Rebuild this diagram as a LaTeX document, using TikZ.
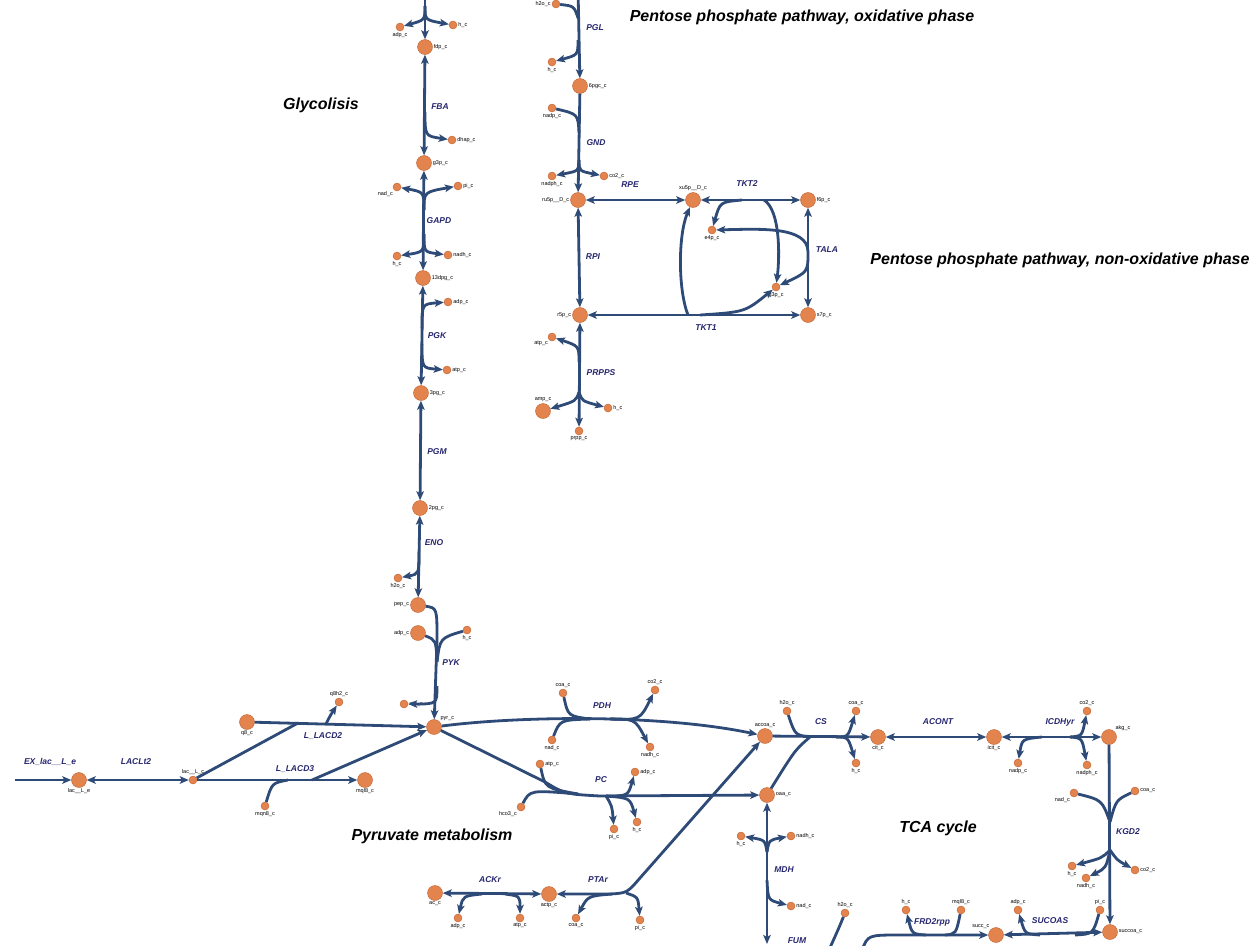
\documentclass[tikz,border=0pt]{standalone}
\usepackage{fontspec}
\setsansfont{Liberation Sans}
\usepackage{xcolor}
\usetikzlibrary{arrows.meta}

\definecolor{fluxblue}{HTML}{2E4A76}
\definecolor{rxnblue}{HTML}{26266E}
\definecolor{metfill}{HTML}{E3844E}
\definecolor{metedge}{HTML}{C0602E}

\begin{document}
\begin{tikzpicture}[
    x=1pt, y=-1pt,
    font=\sffamily,
    met/.style={circle, draw=metedge, fill=metfill, thin, minimum size=15pt, inner sep=0pt},
    cof/.style={circle, draw=metedge, fill=metfill, thin, minimum size=8pt, inner sep=0pt},
    mlab/.style={font=\sffamily\fontsize{5.5}{6}\selectfont, text=black, inner sep=1pt},
    rlab/.style={font=\sffamily\bfseries\itshape\fontsize{8.5}{10}\selectfont, text=rxnblue},
    pathway/.style={font=\sffamily\bfseries\itshape\fontsize{16}{19}\selectfont, text=black},
    rxn/.style={draw=fluxblue, line width=2.8pt},
    arrow/.style={rxn, -{Stealth[length=9pt, width=7.5pt, inset=2pt]}},
    darrow/.style={rxn, {Stealth[length=9pt, width=7.5pt, inset=2pt]}-{Stealth[length=9pt, width=7.5pt, inset=2pt]}}
]
\useasboundingbox (0,0) rectangle (1260,945);

% Pathway titles
\node[pathway] (tglyc) at (321,105) {Glycolisis};
\node[pathway] (tppox) at (802,17) {Pentose phosphate pathway, oxidative phase};
\node[pathway] (tppnox) at (1060,260) {Pentose phosphate pathway, non-oxidative phase};
\node[pathway] (tpyr) at (432,836) {Pyruvate metabolism};
\node[pathway] (ttca) at (938,828) {TCA cycle};

% Nodes: glycolysis
\node[cof, label={[mlab]below:adp\_c}] (pfkadp) at (400,27) {};
\node[cof, label={[mlab]right:h\_c}] (pfkh) at (453,25) {};
\node[met, label={[mlab]right:fdp\_c}] (fdp) at (425,47) {};
\node[cof, label={[mlab]right:dhap\_c}] (dhap) at (452,140) {};
\node[met, label={[mlab]right:g3p\_c}] (g3p) at (424,163) {};
\node[cof, label={[mlab]below left:nad\_c}] (gapdnad) at (397,187) {};
\node[cof, label={[mlab]right:pi\_c}] (gapdpi) at (458,186) {};
\node[cof, label={[mlab]below:h\_c}] (gapdh) at (397,256) {};
\node[cof, label={[mlab]right:nadh\_c}] (gapdnadh) at (448,255) {};
\node[met, label={[mlab]right:13dpg\_c}] (dpg13) at (423,278) {};
\node[cof, label={[mlab]right:adp\_c}] (pgkadp) at (448,302) {};
\node[cof, label={[mlab]right:atp\_c}] (pgkatp) at (447,370) {};
\node[met, label={[mlab]right:3pg\_c}] (pg3) at (421,393) {};
\node[met, label={[mlab]right:2pg\_c}] (pg2) at (420,508) {};
\node[cof, label={[mlab]below:h2o\_c}] (enoh2o) at (398,578) {};
\node[met, label={[mlab]left:pep\_c}] (pep) at (418,605) {};
\node[met, label={[mlab]left:adp\_c}] (pykadp) at (418,633) {};
\node[cof, label={[mlab]below:h\_c}] (pykh) at (467,630) {};
\node[cof, label={[mlab]right:atp\_c}] (pykatp) at (404,704) {};
\node[met, label={[mlab]above right:pyr\_c}] (pyr) at (434,727) {};

% Nodes: pyruvate metabolism
\node[met, label={[mlab]below:q8\_c}] (q8) at (247,722) {};
\node[cof, label={[mlab]above:q8h2\_c}] (q8h2) at (339,702) {};
\node[cof, label={[mlab]above:lac\_\_L\_c}] (laccyt) at (193,780) {};
\node[met, label={[mlab]below:lac\_\_L\_e}] (lacext) at (79,780) {};
\node[cof, label={[mlab]below:mqn8\_c}] (mqn8) at (265,806) {};
\node[met, label={[mlab]below:mql8\_c}] (mql8) at (365,780) {};
\node[cof, label={[mlab]above:coa\_c}] (pdhcoa) at (563,693) {};
\node[cof, label={[mlab]above:co2\_c}] (pdhco2) at (655,690) {};
\node[cof, label={[mlab]below:nad\_c}] (pdhnad) at (552,740) {};
\node[cof, label={[mlab]below:nadh\_c}] (pdhnadh) at (650,747) {};
\node[met, label={[mlab]above:accoa\_c}] (accoa) at (765,736) {};
\node[cof, label={[mlab]right:atp\_c}] (pcatp) at (540,764) {};
\node[cof, label={[mlab]right:adp\_c}] (pcadp) at (635,772) {};
\node[cof, label={[mlab]below left:hco3\_c}] (pchco3) at (521,807) {};
\node[cof, label={[mlab]below:pi\_c}] (pcpi) at (614,829) {};
\node[cof, label={[mlab]below:h\_c}] (pch) at (637,822) {};
\node[met, label={[mlab]right:oaa\_c}] (oaa) at (767,795) {};
\node[met, label={[mlab]below:ac\_c}] (ac) at (435,893) {};
\node[met, label={[mlab]below:actp\_c}] (actp) at (549,894) {};
\node[cof, label={[mlab]below:adp\_c}] (ackadp) at (458,918) {};
\node[cof, label={[mlab]below:atp\_c}] (ackatp) at (520,918) {};
\node[cof, label={[mlab]below:coa\_c}] (ptacoa) at (576,918) {};
\node[cof, label={[mlab]below:pi\_c}] (ptapi) at (640,920) {};

% Nodes: TCA cycle
\node[cof, label={[mlab]above:h2o\_c}] (csh2o) at (787,711) {};
\node[cof, label={[mlab]above:coa\_c}] (cscoa) at (856,711) {};
\node[cof, label={[mlab]below:h\_c}] (csh) at (856,763) {};
\node[met, label={[mlab]below:cit\_c}] (cit) at (878,737) {};
\node[met, label={[mlab]below:icit\_c}] (icit) at (994,737) {};
\node[cof, label={[mlab]below:nadp\_c}] (icdnadp) at (1018,763) {};
\node[cof, label={[mlab]above:co2\_c}] (icdco2) at (1087,711) {};
\node[cof, label={[mlab]below:nadph\_c}] (icdnadph) at (1087,765) {};
\node[met, label={[mlab]above right:akg\_c}] (akg) at (1109,737) {};
\node[cof, label={[mlab]below left:nad\_c}] (kgdnad) at (1074,793) {};
\node[cof, label={[mlab]right:coa\_c}] (kgdcoa) at (1135,791) {};
\node[cof, label={[mlab]below:h\_c}] (kgdh) at (1072,866) {};
\node[cof, label={[mlab]below:nadh\_c}] (kgdnadh) at (1086,878) {};
\node[cof, label={[mlab]right:co2\_c}] (kgdco2) at (1135,870) {};
\node[met, label={[mlab]right:succoa\_c}] (succoa) at (1110,932) {};
\node[met, label={[mlab]above left:succ\_c}] (succ) at (996,935) {};
\node[cof, label={[mlab]above:adp\_c}] (sucadp) at (1018,910) {};
\node[cof, label={[mlab]above:pi\_c}] (sucpi) at (1100,910) {};
\node[cof, label={[mlab]above:h\_c}] (frdh) at (906,910) {};
\node[cof, label={[mlab]above:mql8\_c}] (frdmql) at (961,910) {};
\node[cof, label={[mlab]above:h2o\_c}] (fumh2o) at (845,913) {};
\node[cof, label={[mlab]below:h\_c}] (mdhh) at (741,836) {};
\node[cof, label={[mlab]right:nadh\_c}] (mdhnadh) at (791,836) {};
\node[cof, label={[mlab]right:nad\_c}] (mdhnad) at (791,906) {};

% Nodes: pentose phosphate pathway
\node[cof, label={[mlab]left:h2o\_c}] (pglh2o) at (556,4) {};
\node[cof, label={[mlab]below:h\_c}] (pglh) at (552,62) {};
\node[met, label={[mlab]right:6pgc\_c}] (pgc6) at (580,86) {};
\node[cof, label={[mlab]below:nadp\_c}] (gndnadp) at (552,108) {};
\node[cof, label={[mlab]below:nadph\_c}] (gndnadph) at (552,176) {};
\node[cof, label={[mlab]right:co2\_c}] (gndco2) at (604,176) {};
\node[met, label={[mlab]left:ru5p\_\_D\_c}] (ru5p) at (578,200) {};
\node[met, label={[mlab]above:xu5p\_\_D\_c}] (xu5p) at (693,200) {};
\node[met, label={[mlab]right:f6p\_c}] (f6p) at (808,200) {};
\node[cof, label={[mlab]below:e4p\_c}] (e4p) at (712,230) {};
\node[cof, label={[mlab]below:g3p\_c}] (g3pb) at (776,287) {};
\node[met, label={[mlab]right:s7p\_c}] (s7p) at (808,315) {};
\node[met, label={[mlab]left:r5p\_c}] (r5p) at (580,315) {};
\node[cof, label={[mlab]below left:atp\_c}] (prsatp) at (552,337) {};
\node[met, label={[mlab]above:amp\_c}] (amp) at (543,411) {};
\node[cof, label={[mlab]right:h\_c}] (prsh) at (608,408) {};
\node[cof, label={[mlab]below:prpp\_c}] (prpp) at (579,431) {};

% Connections: glycolysis
\coordinate (pfkin) at (425,-12);
\coordinate (pfkj) at (425,6);
\draw[arrow] (pfkin) -- (fdp);
\draw[arrow] (pfkj) .. controls (425,20) .. (pfkadp);
\draw[arrow] (pfkj) .. controls (425,20) .. (pfkh);
\coordinate (fbaj) at (425,112);
\draw[darrow] (fdp) -- (g3p);
\draw[arrow] (fbaj) .. controls (425,136) .. (dhap);
\node[rlab] (lfba) at (440,107) {FBA};
\coordinate (gapdj1) at (424,210);
\coordinate (gapdj2) at (424,234);
\draw[darrow] (g3p) -- (dpg13);
\draw[arrow] (gapdj1) .. controls (424,192) .. (gapdnad);
\draw[arrow] (gapdj1) .. controls (424,192) .. (gapdpi);
\draw[arrow] (gapdj2) .. controls (424,252) .. (gapdh);
\draw[arrow] (gapdj2) .. controls (424,252) .. (gapdnadh);
\node[rlab] (lgapd) at (439,221) {GAPD};
\coordinate (pgkj1) at (422,328);
\coordinate (pgkj2) at (422,344);
\draw[darrow] (dpg13) -- (pg3);
\draw[arrow] (pgkj1) .. controls (422,304) .. (pgkadp);
\draw[arrow] (pgkj2) .. controls (422,368) .. (pgkatp);
\node[rlab] (lpgk) at (437,336) {PGK};
\draw[darrow] (pg3) -- (pg2);
\node[rlab] (lpgm) at (437,452) {PGM};
\coordinate (enoj) at (419,552);
\draw[darrow] (pg2) -- (pep);
\draw[arrow] (enoj) .. controls (419,574) .. (enoh2o);
\node[rlab] (leno) at (434,543) {ENO};
\coordinate (pykj1) at (437,662);
\coordinate (pykj2) at (437,686);
\draw[arrow] (pep) .. controls (437,608) .. (437,640) -- (pyr);
\draw[rxn] (pykadp) .. controls (436,640) .. (pykj1);
\draw[rxn] (pykh) .. controls (440,638) .. (pykj1);
\draw[arrow] (pykj2) .. controls (437,704) .. (pykatp);
\node[rlab] (lpyk) at (451,663) {PYK};

% Connections: pyruvate metabolism
\coordinate (exin) at (15,780);
\draw[arrow] (exin) -- (lacext);
\node[rlab] (lex) at (50,762) {EX\_lac\_\_L\_e};
\draw[darrow] (lacext) -- (laccyt);
\node[rlab] (llaclt) at (136,762) {LACLt2};
\coordinate (lacd2j) at (298,723);
\coordinate (lacd2k) at (326,724);
\draw[arrow] (q8) -- (pyr);
\draw[rxn] (laccyt) -- (lacd2j);
\draw[arrow] (lacd2k) .. controls (330,716) .. (q8h2);
\node[rlab] (llacd2) at (323,736) {L\_LACD2};
\coordinate (lacd3j) at (288,780);
\coordinate (lacd3k) at (312,780);
\draw[arrow] (laccyt) -- (mql8);
\draw[rxn] (mqn8) .. controls (272,783) .. (lacd3j);
\draw[arrow] (lacd3k) -- (pyr);
\node[rlab] (llacd3) at (295,769) {L\_LACD3};
\coordinate (pdhj1) at (590,719);
\coordinate (pdhj2) at (610,719);
\draw[arrow] (pyr) .. controls (520,716) and (660,714) .. (accoa);
\draw[rxn] (pdhcoa) .. controls (568,716) .. (pdhj1);
\draw[rxn] (pdhnad) .. controls (560,720) .. (pdhj1);
\draw[arrow] (pdhj2) .. controls (640,720) .. (pdhco2);
\draw[arrow] (pdhj2) .. controls (635,719) .. (pdhnadh);
\node[rlab] (lpdh) at (602,706) {PDH};
\coordinate (pcj1) at (578,794);
\coordinate (pcj2) at (606,796);
\draw[arrow] (pyr) -- (545,782) .. controls (565,794) .. (600,796) -- (oaa);
\draw[rxn] (pcatp) .. controls (545,788) .. (pcj1);
\draw[rxn] (pchco3) .. controls (530,790) .. (pcj1);
\draw[arrow] (pcj2) .. controls (628,796) .. (pcadp);
\draw[arrow] (pcj2) .. controls (612,806) .. (pcpi);
\draw[arrow] (pcj2) .. controls (630,798) .. (pch);
\node[rlab] (lpc) at (601,780) {PC};
\coordinate (ptaj1) at (612,894);
\coordinate (ptaj2) at (626,893);
\draw[darrow] (accoa) -- (640,878) .. controls (627,893) .. (610,894) -- (actp);
\draw[arrow] (ptaj1) .. controls (588,896) .. (ptacoa);
\draw[arrow] (ptaj2) .. controls (638,897) .. (ptapi);
\node[rlab] (lpta) at (598,880) {PTAr};
\coordinate (ackj1) at (482,894);
\coordinate (ackj2) at (505,894);
\draw[darrow] (ac) -- (actp);
\draw[arrow] (ackj1) .. controls (463,896) .. (ackadp);
\draw[arrow] (ackj2) .. controls (520,896) .. (ackatp);
\node[rlab] (lack) at (490,880) {ACKr};

% Connections: TCA cycle
\coordinate (csj1) at (810,737);
\coordinate (csj2) at (836,737);
\draw[arrow] (accoa) -- (cit);
\draw[rxn] (oaa) .. controls (795,750) .. (csj1);
\draw[rxn] (csh2o) .. controls (795,735) .. (csj1);
\draw[arrow] (csj2) .. controls (848,737) .. (cscoa);
\draw[arrow] (csj2) .. controls (848,737) .. (csh);
\node[rlab] (lcs) at (821,722) {CS};
\draw[darrow] (cit) -- (icit);
\node[rlab] (lacont) at (938,722) {ACONT};
\coordinate (icdj1) at (1042,737);
\coordinate (icdj2) at (1070,737);
\draw[darrow] (icit) -- (akg);
\draw[arrow] (icdj1) .. controls (1022,739) .. (icdnadp);
\draw[arrow] (icdj2) .. controls (1082,736) .. (icdco2);
\draw[arrow] (icdj2) .. controls (1082,738) .. (icdnadph);
\node[rlab] (licd) at (1060,722) {ICDHyr};
\coordinate (kgdj1) at (1110,822);
\coordinate (kgdj2) at (1110,850);
\draw[arrow] (akg) -- (succoa);
\draw[rxn] (kgdnad) .. controls (1102,800) .. (kgdj1);
\draw[rxn] (kgdcoa) .. controls (1116,800) .. (kgdj1);
\draw[arrow] (kgdj2) .. controls (1102,858) .. (kgdh);
\draw[arrow] (kgdj2) .. controls (1106,868) .. (kgdnadh);
\draw[arrow] (kgdj2) .. controls (1117,860) .. (kgdco2);
\node[rlab] (lkgd) at (1128,832) {KGD2};
\coordinate (sucj1) at (1040,935);
\coordinate (sucj2) at (1075,935);
\draw[darrow] (succ) -- (succoa);
\draw[arrow] (sucj1) .. controls (1025,934) .. (sucadp);
\draw[rxn] (sucpi) .. controls (1093,934) .. (sucj2);
\node[rlab] (lsuc) at (1050,921) {SUCOAS};
\coordinate (frdin) at (862,950);
\coordinate (frdj1) at (926,935);
\coordinate (frdj2) at (945,935);
\draw[arrow] (frdin) .. controls (868,935) .. (900,935) -- (succ);
\draw[arrow] (frdj1) .. controls (912,934) .. (frdh);
\draw[rxn] (frdmql) .. controls (956,934) .. (frdj2);
\node[rlab] (lfrd) at (932,922) {FRD2rpp};
\coordinate (fumj) at (828,952);
\draw[rxn] (fumh2o) .. controls (838,930) .. (fumj);
\node[rlab] (lfum) at (797,941) {FUM};
\coordinate (mdhin) at (767,944);
\coordinate (mdhj1) at (767,852);
\coordinate (mdhj2) at (767,880);
\draw[darrow] (oaa) -- (mdhin);
\draw[arrow] (mdhj1) .. controls (765,840) .. (mdhh);
\draw[arrow] (mdhj1) .. controls (769,840) .. (mdhnadh);
\draw[arrow] (mdhj2) .. controls (768,900) .. (mdhnad);
\node[rlab] (lmdh) at (784,870) {MDH};

% Connections: pentose phosphate pathway
\coordinate (pglin) at (578,-12);
\coordinate (pglj1) at (578,18);
\coordinate (pglj2) at (578,40);
\draw[arrow] (pglin) -- (pgc6);
\draw[rxn] (pglh2o) .. controls (574,6) .. (pglj1);
\draw[arrow] (pglj2) .. controls (578,55) .. (pglh);
\node[rlab] (lpgl) at (595,28) {PGL};
\coordinate (gndj1) at (579,133);
\coordinate (gndj2) at (579,160);
\draw[arrow] (pgc6) -- (ru5p);
\draw[rxn] (gndnadp) .. controls (578,114) .. (gndj1);
\draw[arrow] (gndj2) .. controls (579,171) .. (gndnadph);
\draw[arrow] (gndj2) .. controls (579,171) .. (gndco2);
\node[rlab] (lgnd) at (596,143) {GND};
\draw[darrow] (ru5p) -- (xu5p);
\node[rlab] (lrpe) at (630,185) {RPE};
\draw[darrow] (ru5p) -- (r5p);
\node[rlab] (lrpi) at (593,257) {RPI};
\coordinate (tkt2j1) at (742,200);
\coordinate (tkt2j2) at (764,200);
\draw[darrow] (xu5p) -- (f6p);
\draw[arrow] (tkt2j1) .. controls (720,202) .. (e4p);
\draw[arrow] (tkt2j2) .. controls (780,210) and (780,255) .. (g3pb);
\node[rlab] (ltkt2) at (747,184) {TKT2};
\coordinate (talaj) at (808,252);
\draw[darrow] (f6p) -- (s7p);
\draw[arrow] (talaj) .. controls (808,226) and (760,229) .. (e4p);
\draw[arrow] (talaj) .. controls (808,272) .. (g3pb);
\node[rlab] (ltala) at (827,250) {TALA};
\coordinate (tkt1j1) at (688,315);
\coordinate (tkt1j2) at (700,315);
\draw[darrow] (r5p) -- (s7p);
\draw[arrow] (tkt1j1) .. controls (678,290) and (678,235) .. (xu5p);
\draw[arrow] (tkt1j2) .. controls (745,312) .. (g3pb);
\node[rlab] (ltkt1) at (706,328) {TKT1};
\coordinate (prsj1) at (579,362);
\coordinate (prsj2) at (579,392);
\draw[darrow] (r5p) -- (prpp);
\draw[arrow] (prsj1) .. controls (579,346) .. (prsatp);
\draw[arrow] (prsj2) .. controls (576,401) .. (amp);
\draw[arrow] (prsj2) .. controls (582,401) .. (prsh);
\node[rlab] (lprs) at (601,373) {PRPPS};

\end{tikzpicture}
\end{document}
